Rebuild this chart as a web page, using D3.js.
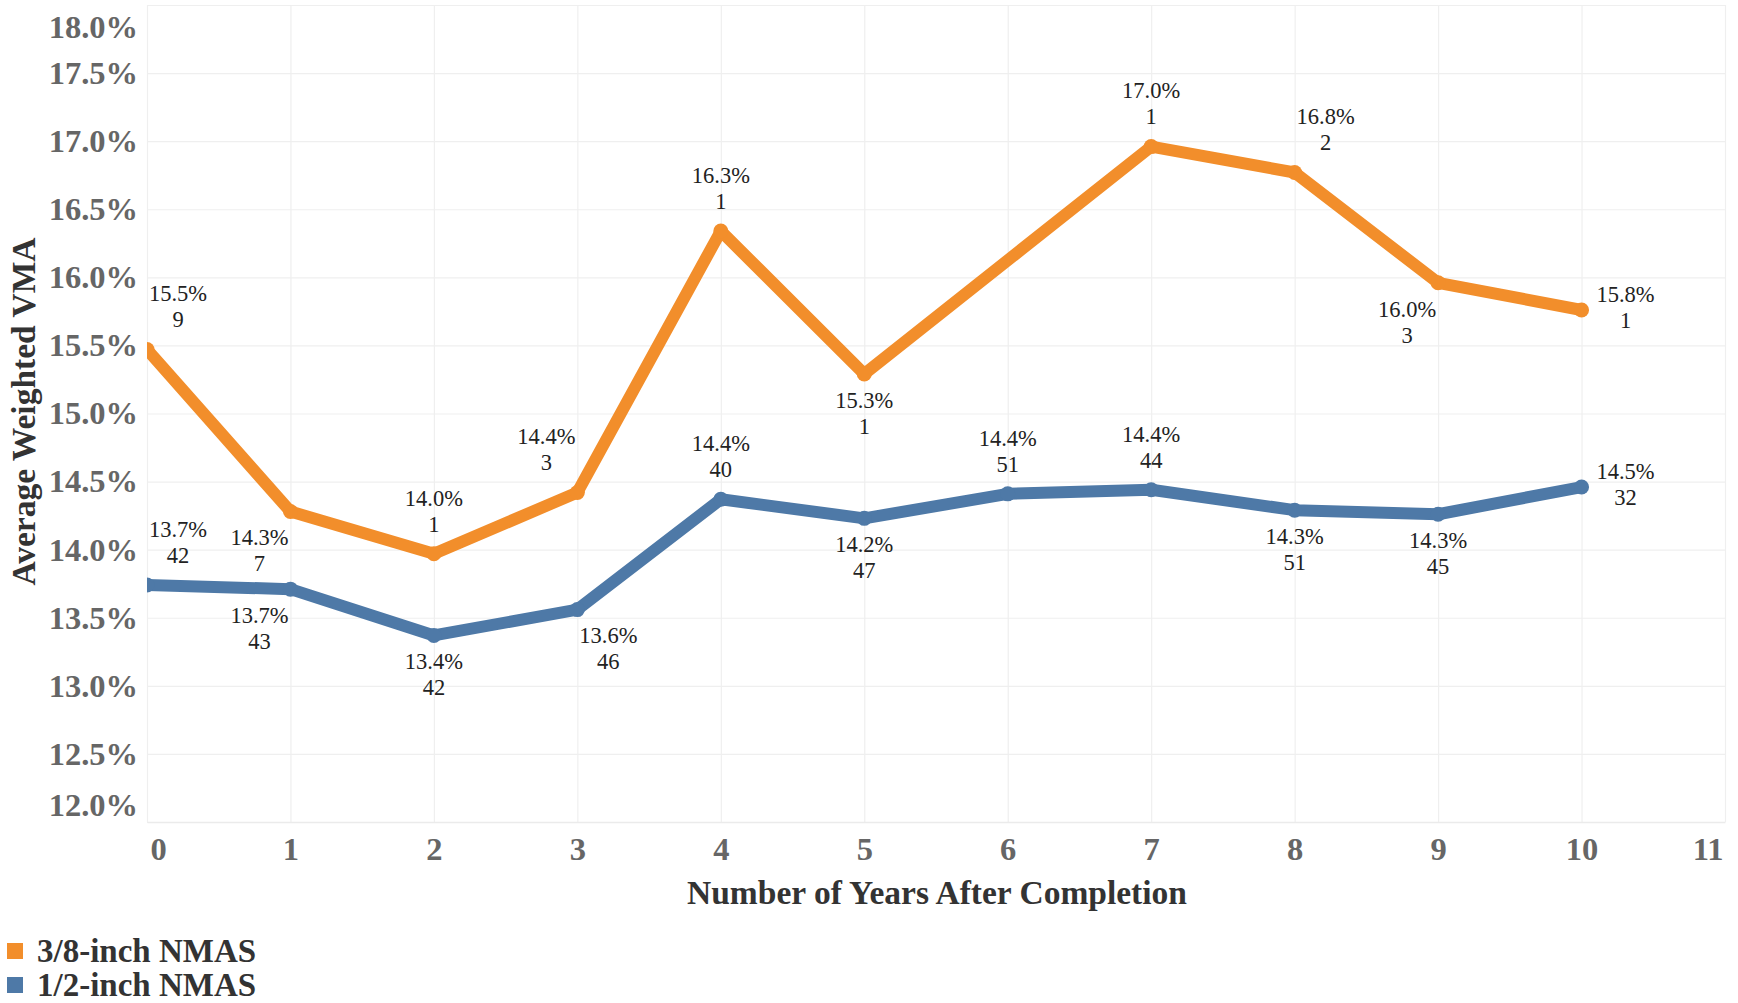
<!DOCTYPE html>
<html lang="en">
    <head>
        <meta charset="utf-8">
        <title>Average Weighted VMA by Years After Completion</title>
        <style>
            body { margin: 0; background: #fff; }
            svg { display: block; }
            svg text { font-family: "Liberation Serif", "Times New Roman", serif; }
        </style>
    </head>
    <body>
        <div id="svg-container"></div>
        <script src="https://cdn.jsdelivr.net/npm/d3@7"></script>
        <script>
            // Data
            const years = [0, 1, 2, 3, 4, 5, 6, 7, 8, 9, 10];
            const xTickValues = [0, 1, 2, 3, 4, 5, 6, 7, 8, 9, 10, 11];
            const yTickValues = [12, 12.5, 13, 13.5, 14, 14.5, 15, 15.5, 16, 16.5, 17, 17.5, 18];

            const seriesNames = ["3/8-inch NMAS", "1/2-inch NMAS"];
            const seriesColors = ["#f28e2b", "#4e79a7"];

            // 3/8-inch has no projects at year 6
            const vma38 = [15.47, 14.28, 13.97, 14.42, 16.34, 15.29, null, 16.96, 16.77, 15.96, 15.76];
            const count38 = [9, 7, 1, 3, 1, 1, null, 1, 2, 3, 1];
            const vma12 = [13.74, 13.71, 13.37, 13.56, 14.37, 14.23, 14.41, 14.44, 14.29, 14.26, 14.46];
            const count12 = [42, 43, 42, 46, 40, 47, 51, 44, 51, 45, 32];

            // where each mark label sits: a = above, b = below, l/r = nudged left/right
            const place38 = ["ar", "bl", "a", "al", "a", "b", null, "a", "ar", "bl", "r"];
            const place12 = ["ar", "bl", "b", "br", "a", "b", "a", "a", "b", "b", "r"];

            const width = 1738,
                  height = 1003,
                  plot = { left: 147, right: 1725, top: 5, bottom: 822 },
                  serif = "Liberation Serif, Times New Roman, serif";

            const svg = d3.select("#svg-container")
                .append("svg")
                .attr("width", width)
                .attr("height", height);

            const xScale = d3.scaleLinear()
                .domain([0, 11])
                .range([plot.left, plot.right]);

            const yScale = d3.scaleLinear()
                .domain([12, 18])
                .range([plot.bottom, plot.top]);

            // gridlines
            svg.append("g")
                .attr("transform", "translate(" + plot.left + ",0)")
                .call(d3.axisLeft(yScale).tickValues(yTickValues).tickSize(-(plot.right - plot.left)).tickFormat(""))
                .call(g => g.select(".domain").remove())
                .call(g => g.selectAll("line").attr("stroke", "#efefef").attr("stroke-width", 1.2));

            svg.append("g")
                .attr("transform", "translate(0," + plot.bottom + ")")
                .call(d3.axisBottom(xScale).tickValues(xTickValues).tickSize(-(plot.bottom - plot.top)).tickFormat(""))
                .call(g => g.select(".domain").remove())
                .call(g => g.selectAll("line").attr("stroke", "#efefef").attr("stroke-width", 1.2));

            // y axis labels (outer ones are pulled inside the plot edges)
            const clampY = v => Math.max(plot.top + 22, Math.min(plot.bottom - 17, yScale(v)));
            svg.append("g")
                .attr("transform", "translate(" + plot.left + ",0)")
                .call(d3.axisLeft(yScale).tickValues(yTickValues).tickSize(0).tickPadding(9).tickFormat(d => d3.format(".1f")(d) + "%"))
                .attr("font-family", serif)
                .call(g => g.select(".domain").remove())
                .call(g => g.selectAll("text")
                    .attr("y", d => clampY(d) - yScale(d))
                    .attr("font-size", 32.5)
                    .attr("font-weight", "bold")
                    .attr("fill", "#666"));

            // x axis labels
            svg.append("g")
                .attr("transform", "translate(0," + plot.bottom + ")")
                .call(d3.axisBottom(xScale).tickValues(xTickValues).tickSize(0).tickPadding(15).tickFormat(d3.format("d")))
                .attr("font-family", serif)
                .call(g => g.select(".domain").attr("stroke", "#ebebeb").attr("stroke-width", 1.5))
                .call(g => g.selectAll("text")
                    .attr("font-size", 32.5)
                    .attr("font-weight", "bold")
                    .attr("fill", "#666")
                    .attr("text-anchor", d => d === 0 ? "start" : d === 11 ? "end" : "middle")
                    .attr("x", d => d === 0 ? 3 : d === 11 ? -2 : 0));

            // axis titles
            svg.append("text")
                .attr("x", (xScale(0) + xScale(11)) / 2 + 1)
                .attr("y", 904)
                .attr("text-anchor", "middle")
                .attr("font-family", serif)
                .attr("font-size", 33.5)
                .attr("font-weight", "bold")
                .attr("fill", "#333")
                .text("Number of Years After Completion");

            svg.append("text")
                .attr("transform", "translate(35," + (yScale(15) - 2) + ") rotate(-90)")
                .attr("text-anchor", "middle")
                .attr("font-family", serif)
                .attr("font-size", 33.5)
                .attr("font-weight", "bold")
                .attr("fill", "#333")
                .text("Average Weighted VMA");

            // lines
            svg.append("clipPath")
                .attr("id", "plot-clip")
                .append("rect")
                .attr("x", plot.left)
                .attr("y", plot.top)
                .attr("width", plot.right - plot.left)
                .attr("height", plot.bottom - plot.top);

            const line = d3.line()
                .x(d => xScale(d.year))
                .y(d => yScale(d.value));

            const series = [
                { name: seriesNames[0], color: seriesColors[0], values: vma38, counts: count38, place: place38 },
                { name: seriesNames[1], color: seriesColors[1], values: vma12, counts: count12, place: place12 }
            ].map(s => ({
                ...s,
                points: years.map((year, i) => ({ year, value: s.values[i], count: s.counts[i], place: s.place[i] }))
                    .filter(p => p.value !== null)
            }));

            const marks = svg.append("g").attr("clip-path", "url(#plot-clip)");

            series.forEach(s => {
                marks.append("path")
                    .datum(s.points)
                    .attr("d", line)
                    .attr("fill", "none")
                    .attr("stroke", s.color)
                    .attr("stroke-width", 12)
                    .attr("stroke-linejoin", "round");

                marks.selectAll(null)
                    .data(s.points)
                    .enter()
                    .append("circle")
                    .attr("cx", d => xScale(d.year))
                    .attr("cy", d => yScale(d.value))
                    .attr("r", 7.5)
                    .attr("fill", s.color);
            });

            // mark labels: value and number of projects
            const labelOffset = p => {
                let dx = 0, dy = -56;
                if (p.startsWith("b")) dy = 26;
                if (p.endsWith("l")) dx = -31;
                if (p.length === 2 && p.endsWith("r")) dx = 31;
                if (p === "r") { dx = 44; dy = -16; }
                return { dx, dy };
            };

            series.forEach(s => {
                const labels = svg.append("g")
                    .attr("font-family", serif)
                    .selectAll("text")
                    .data(s.points)
                    .enter()
                    .append("text")
                    .attr("text-anchor", "middle")
                    .attr("font-size", 22.5)
                    .attr("fill", "#222")
                    .attr("transform", d => {
                        const o = labelOffset(d.place);
                        return "translate(" + (xScale(d.year) + o.dx) + "," + (yScale(d.value) + o.dy) + ")";
                    });

                labels.append("tspan")
                    .attr("x", 0)
                    .attr("dy", "0.35em")
                    .text(d => d3.format(".1f")(d.value) + "%");

                labels.append("tspan")
                    .attr("x", 0)
                    .attr("dy", 26)
                    .text(d => d.count);
            });

            // legend
            const legend = svg.append("g")
                .attr("font-family", serif)
                .selectAll("g")
                .data(series)
                .enter()
                .append("g")
                .attr("transform", (d, i) => "translate(7," + (951 + i * 34) + ")");

            legend.append("rect")
                .attr("x", 0)
                .attr("y", -8)
                .attr("width", 16)
                .attr("height", 16)
                .attr("fill", d => d.color);

            legend.append("text")
                .attr("x", 30)
                .attr("dy", "0.33em")
                .attr("font-size", 33)
                .attr("font-weight", "bold")
                .attr("fill", "#333")
                .text(d => d.name);
        </script>
    </body>
</html>
